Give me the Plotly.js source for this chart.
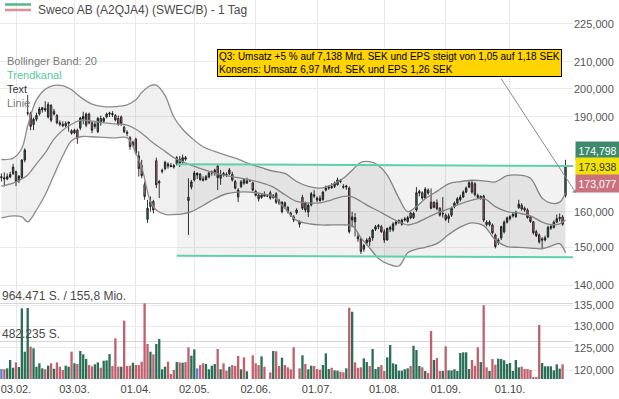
<!DOCTYPE html>
<html><head><meta charset="utf-8">
<script src="https://cdn.plot.ly/plotly-3.0.1.min.js"></script>
<style>html,body{margin:0;padding:0;background:#fff;}#chart{width:619px;height:399px;}</style>
</head><body><div id="chart"></div>
<script>
// ---- calendar (trading days) ----
const closedDays = ['2025-04-18','2025-04-21','2025-05-01'];
function buildCalendar(start, end, closed){
  const out=[]; const d=new Date(start+'T00:00:00Z'); const e=new Date(end+'T00:00:00Z');
  while(d<=e){const wd=d.getUTCDay(); const s=d.toISOString().slice(0,10);
    if(wd!==0&&wd!==6&&!closed.includes(s)) out.push(s); d.setUTCDate(d.getUTCDate()+1);}
  return out;
}
const axisDates = buildCalendar('2025-01-27','2025-11-28',closedDays);
const idx = s => axisDates.indexOf(s);

// ---- price data (SEK) ----
const open = [170.5,170.2,169.8,170.4,171.5,172.0,169.2,170.2,175.7,191.5,
191.2,187.4,189.2,191.0,192.5,193.0,190.0,194.0,192.0,190.5,
188.0,187.5,187.0,187.8,185.3,184.6,185.5,186.2,189.3,187.2,
191.0,188.0,186.8,185.0,189.5,188.5,190.0,191.0,191.2,190.5,
189.5,190.0,186.5,184.8,183.0,181.5,182.5,177.0,174.0,168.0,
157.8,161.5,163.0,175.5,169.0,172.5,173.0,174.5,174.0,174.0,
174.5,176.0,175.0,176.5,164.3,167.3,169.5,171.0,171.3,169.8,
169.6,170.4,171.6,171.9,173.8,170.0,171.5,171.2,171.4,171.2,
169.0,164.3,167.5,169.6,168.5,169.2,168.6,166.0,164.9,164.2,
165.0,164.6,165.6,164.2,165.3,163.2,160.0,162.6,161.3,159.6,
158.5,159.7,157.1,164.2,162.5,159.9,162.0,165.0,164.0,164.0,
163.6,166.4,167.0,167.5,167.5,168.0,169.3,167.5,167.3,167.0,
157.6,157.1,153.0,152.3,149.5,151.2,152.5,152.6,155.0,155.7,
155.7,154.3,152.0,155.0,154.8,156.5,157.0,156.4,157.6,157.2,
159.6,158.3,160.5,165.5,165.6,164.0,166.4,162.8,162.8,162.6,
161.0,159.5,159.0,158.8,159.0,161.5,162.5,163.5,164.3,165.8,
167.3,168.6,168.3,164.8,164.0,164.6,157.0,156.3,156.2,153.4,
151.3,152.6,154.3,157.0,158.0,158.8,158.6,161.2,161.9,161.0,
160.5,158.5,157.1,154.3,153.4,152.3,152.0,152.9,155.3,155.5,
157.0,158.0,158.5,164.8];
const high = [171.5,171.8,171.5,172.0,174.5,172.4,171.0,176.0,179.5,197.7,
191.8,189.8,191.5,193.5,193.5,195.5,195.2,194.5,192.8,191.0,
188.8,188.5,188.5,188.5,185.8,186.0,186.0,190.0,191.8,191.5,
191.5,188.5,188.3,190.0,190.5,190.0,191.5,191.8,192.0,191.0,
190.5,190.5,187.0,185.5,183.5,182.0,183.0,178.5,175.8,169.0,
163.5,164.5,163.5,176.5,169.5,173.0,175.5,175.0,174.8,174.5,
177.0,177.0,177.5,177.0,170.0,169.5,172.3,171.8,171.6,170.6,
171.0,172.0,172.4,173.0,174.5,172.6,172.0,171.8,173.2,172.0,
169.5,167.0,169.5,170.0,170.2,169.4,169.0,166.5,165.5,165.3,
166.0,164.8,166.2,165.2,165.8,163.8,163.0,163.0,161.6,160.0,
159.0,161.0,157.5,165.0,163.0,162.5,165.8,166.4,164.5,164.8,
166.2,167.8,167.8,168.5,169.0,170.2,169.8,168.2,168.0,167.5,
160.0,159.6,154.0,152.6,151.0,152.5,153.0,155.0,156.2,156.5,
156.2,155.0,155.5,156.0,157.0,157.5,157.8,158.0,158.5,158.8,
160.0,160.0,167.3,166.5,166.0,167.3,166.9,166.9,163.0,163.6,
161.3,164.3,159.5,159.5,161.5,163.0,164.3,165.0,166.3,167.5,
169.5,169.2,168.8,165.3,164.8,165.0,157.5,157.5,156.6,153.8,
152.5,156.0,157.5,158.6,159.0,159.8,160.3,163.5,162.5,161.5,
161.0,158.8,157.3,154.8,153.8,152.8,153.2,156.0,156.5,157.5,
159.2,159.5,159.0,175.8];
const low = [169.0,167.5,169.4,170.0,171.0,167.6,168.5,169.8,175.0,190.5,
185.5,185.5,188.5,190.5,191.5,191.8,189.5,188.2,190.5,187.5,
186.8,186.5,186.5,185.0,184.0,184.2,181.0,185.5,187.5,186.5,
187.5,184.5,186.0,184.5,187.0,188.0,189.5,190.0,190.0,188.5,
187.0,187.0,184.5,183.5,179.0,180.0,177.5,170.5,170.0,163.5,
156.8,160.0,159.5,167.0,164.0,171.5,172.5,173.0,173.5,173.0,
174.0,173.5,174.5,175.5,153.4,166.6,169.0,169.8,169.2,169.0,
169.3,170.0,170.8,170.8,166.4,168.0,170.5,170.4,171.0,169.0,
166.6,162.8,167.0,168.0,168.3,169.0,166.0,164.5,163.0,163.8,
164.5,164.4,163.5,163.8,162.3,162.0,159.5,161.0,159.5,158.5,
157.0,159.2,155.5,160.5,159.8,158.5,161.5,164.0,162.8,163.0,
163.2,166.0,166.5,166.8,167.0,167.8,168.5,166.8,166.5,153.8,
155.5,153.0,151.5,148.2,148.8,150.5,150.3,151.8,154.5,155.0,
154.0,151.2,151.8,154.2,154.3,156.0,156.5,156.0,157.2,156.8,
157.8,157.9,160.0,164.5,163.5,163.8,165.0,160.7,161.0,160.4,
158.6,158.3,157.3,156.8,158.5,161.0,162.0,163.0,164.0,165.5,
167.0,165.3,164.5,163.8,163.5,157.0,155.8,155.8,153.6,149.7,
150.6,152.0,153.8,156.6,157.5,158.3,158.2,160.8,160.3,160.0,
158.0,156.8,153.5,152.8,151.0,149.8,151.6,152.5,154.8,155.2,
156.8,157.2,156.0,164.2];
const close = [170.2,169.8,170.5,171.2,173.5,169.0,170.6,175.7,178.9,191.3,
186.8,189.2,190.5,192.8,193.2,192.4,194.3,188.9,191.0,188.0,
187.5,187.0,187.8,188.2,184.5,185.5,182.8,189.6,190.2,191.0,
188.0,185.5,187.5,189.5,188.0,189.5,191.0,191.3,190.8,189.0,
187.5,187.8,185.0,184.5,180.0,180.5,178.0,173.0,170.8,164.5,
161.0,163.0,160.5,168.0,168.6,172.2,175.0,173.8,173.6,173.5,
176.5,174.5,176.5,176.0,163.3,168.9,171.6,171.6,169.6,169.4,
170.5,171.6,171.9,172.5,170.2,171.2,171.0,170.8,172.6,169.5,
167.0,166.4,168.9,168.5,169.2,169.2,166.4,164.8,163.8,164.9,
164.6,164.6,164.0,164.7,162.8,162.6,162.8,161.6,160.0,159.0,
157.6,160.5,156.4,161.0,160.5,161.9,165.3,164.6,163.4,163.2,
165.8,167.0,167.3,167.1,168.5,169.5,169.0,167.3,167.6,154.3,
158.5,158.3,152.3,148.9,150.5,152.0,151.5,154.8,155.7,156.0,
154.3,152.0,155.2,155.5,156.5,157.0,157.4,157.6,157.9,158.3,
158.2,159.5,165.6,166.0,164.0,166.7,165.5,161.0,161.3,160.9,
159.0,159.4,157.8,158.0,161.0,162.5,163.8,164.3,165.8,167.0,
168.6,165.8,165.0,164.2,164.5,157.6,156.3,157.0,154.0,150.2,
152.0,155.7,157.0,158.2,158.6,159.2,159.8,162.2,160.8,160.5,
158.3,157.2,154.0,153.2,151.5,152.0,152.6,155.5,155.8,157.0,
158.0,158.3,156.4,173.938];
// ---- volume (shares) ----
const volume = [127000,124000,136000,242000,144000,212000,153000,900000,348000,905000,
412000,391000,157000,200000,136000,124000,170000,200000,131000,212000,
157000,115000,170000,157000,348000,200000,191000,357000,314000,255000,
178000,162000,187000,212000,144000,233000,237000,318000,166000,518000,
157000,157000,743000,166000,170000,208000,178000,178000,221000,964471,
446000,348000,314000,446000,510000,124000,157000,221000,64000,115000,
216000,212000,208000,216000,404000,297000,378000,136000,178000,200000,
191000,124000,170000,191000,382000,124000,200000,106000,157000,178000,
166000,293000,124000,276000,98000,null,302000,200000,178000,289000,
157000,null,85000,357000,353000,166000,272000,178000,149000,124000,
404000,null,136000,302000,191000,124000,170000,166000,127000,119000,
178000,327000,127000,144000,110000,106000,93000,85000,136000,908000,
857000,212000,144000,149000,263000,216000,166000,382000,127000,153000,
178000,102000,276000,433000,200000,187000,106000,106000,124000,136000,
166000,424000,369000,166000,149000,102000,76000,612000,242000,267000,
102000,102000,416000,110000,110000,124000,102000,331000,340000,340000,
127000,242000,170000,404000,216000,940000,149000,102000,255000,183000,
259000,255000,238000,191000,204000,102000,242000,149000,157000,127000,
127000,115000,25000,25000,688000,204000,162000,162000,162000,110000,
187000,132000,187000,null];

// ---- Bollinger band (20) ----
const bandDates = ['2025-01-27','2025-01-31','2025-02-05','2025-02-07','2025-02-12','2025-02-17','2025-02-20','2025-02-25','2025-02-28','2025-03-05',
'2025-03-11','2025-03-17','2025-03-21','2025-03-27','2025-04-01','2025-04-03','2025-04-08','2025-04-10','2025-04-15','2025-04-22',
'2025-04-25','2025-04-30','2025-05-07','2025-05-13','2025-05-19','2025-05-23','2025-05-29','2025-06-04','2025-06-10','2025-06-16',
'2025-06-20','2025-06-26','2025-07-02','2025-07-08','2025-07-14','2025-07-17','2025-07-22','2025-07-25','2025-07-30','2025-08-04',
'2025-08-08','2025-08-13','2025-08-18','2025-08-21','2025-08-27','2025-09-02','2025-09-08','2025-09-12','2025-09-18','2025-09-24',
'2025-09-30','2025-10-06','2025-10-10','2025-10-16','2025-10-21','2025-10-24','2025-10-28'];
const bandUpper = [175.9,176.3,179.5,187.0,196.0,199.8,201.2,201.1,199.6,197.0,194.5,193.6,193.6,194.2,196.0,198.6,201.1,201.3,197.5,190.0,
185.8,183.0,180.0,178.5,177.2,176.0,174.5,173.3,172.2,171.5,169.0,167.5,167.0,168.0,170.0,172.5,175.0,175.2,174.0,171.0,
164.0,160.0,161.5,163.8,166.0,168.3,169.0,169.4,169.2,168.9,170.8,171.0,170.0,164.0,162.5,162.8,165.5];
const bandMiddle = [167.6,168.5,169.8,171.0,174.5,178.0,182.5,185.5,187.5,188.8,188.6,188.0,187.6,187.2,185.8,184.5,182.0,180.5,178.5,176.5,
175.2,174.0,172.8,171.6,170.8,170.2,169.5,168.6,167.3,165.0,163.0,162.6,162.6,163.5,164.5,164.4,163.0,161.5,160.2,158.8,
157.1,156.2,156.8,158.0,159.6,160.8,162.3,163.4,163.9,161.5,160.0,159.6,158.8,157.0,156.3,156.5,157.6];
const bandLower = [158.2,158.8,158.5,157.1,160.5,165.0,171.0,177.0,182.0,183.3,183.3,183.1,182.9,183.0,178.0,173.5,163.0,160.5,159.2,159.2,
159.4,160.0,161.8,163.8,165.3,165.8,165.8,165.3,164.5,161.0,157.5,156.6,156.2,156.2,156.2,156.0,152.6,149.8,147.0,145.6,
145.0,148.5,149.5,150.0,151.0,153.5,155.6,156.8,156.0,152.0,150.2,150.0,149.8,149.6,150.3,151.0,148.5];

// ---- trend channel ----
const trendDates = ['2025-04-23','2025-11-21'];
const trendUpper = [174.4,173.8];
const trendLower = [147.7,147.3];
const trendFillDates = ['2025-04-23','2025-10-28'];
const trendFillUpper = [174.4,173.9];
const trendFillLower = [147.7,147.4];

// ---- labels ----
const tickDates = ['2025-02-03','2025-03-03','2025-04-01','2025-05-02','2025-06-02','2025-07-01','2025-08-01','2025-09-01','2025-10-01'];
const tickLabels = ['03.02.','03.03.','01.04.','02.05.','02.06.','01.07.','01.08.','01.09.','01.10.'];
const priceTicks = [120,125,130,135,140,150,160,190,200,210,225];
const volumeRefs = [482235,964471];
const quoteLabels = [{v:'174,798',bg:'#3f8a6c',fg:'#ffffff',y:150},{v:'173,938',bg:'#f2e205',fg:'#333333',y:166.5},{v:'173,077',bg:'#c9717e',fg:'#ffffff',y:183}];

// ---- derived ----
const x = close.map((_,k)=>k);
const volColors = close.map((c,k)=> (k===0||c===close[k-1]) ? '#5b7fd6' : (c>close[k-1] ? '#2c6f57' : '#c1616f'));
const bandX = bandDates.map(idx);
const trendX = trendDates.map(idx);
const trendFillX = trendFillDates.map(idx);

const W=619, H=399, ML=0, MR=46, MT=0, MB=18;
const PW=W-ML-MR, PH=H-MT-MB;
const px2x = p => p/PW, py2y = p => 1 - p/PH;
const FONT = 'Liberation Sans, Arial, sans-serif';

const traces = [
 {x:bandX, y:bandUpper, type:'scatter', mode:'lines', line:{color:'#8c8c8c', width:1.3, shape:'spline', smoothing:1}, hoverinfo:'skip'},
 {x:bandX, y:bandLower, type:'scatter', mode:'lines', fill:'tonexty', fillcolor:'rgba(0,0,0,0.06)', line:{color:'#8c8c8c', width:1.3, shape:'spline', smoothing:1}, hoverinfo:'skip'},
 {x:bandX, y:bandMiddle, type:'scatter', mode:'lines', line:{color:'#8c8c8c', width:1.3, shape:'spline', smoothing:1}, hoverinfo:'skip'},
 {x:trendFillX, y:trendFillLower, type:'scatter', mode:'lines', line:{width:0, color:'rgba(0,0,0,0)'}, hoverinfo:'skip'},
 {x:trendFillX, y:trendFillUpper, type:'scatter', mode:'lines', fill:'tonexty', fillcolor:'rgba(0,0,0,0.05)', line:{width:0, color:'rgba(0,0,0,0)'}, hoverinfo:'skip'},
 {x:trendX, y:trendLower, type:'scatter', mode:'lines', line:{color:'#5fd1a6', width:2}, hoverinfo:'skip'},
 {x:trendX, y:trendUpper, type:'scatter', mode:'lines', line:{color:'#5fd1a6', width:2}, hoverinfo:'skip'},
 {x:x, y:volume, type:'bar', yaxis:'y2', marker:{color:volColors, line:{width:0}}, hoverinfo:'skip'},
 {x:x, open:open, high:high, low:low, close:close, type:'candlestick',
  increasing:{line:{color:'#1e1e1e', width:0.9}, fillcolor:'#2f7c5e'},
  decreasing:{line:{color:'#1e1e1e', width:0.9}, fillcolor:'#cf7c88'},
  whiskerwidth:0, hoverinfo:'skip'}
];

const annotations = [
 {xref:'paper', yref:'paper', x:px2x(36), y:py2y(10), xanchor:'left', yanchor:'middle', showarrow:false, text:'Sweco AB (A2QJA4) (SWEC/B) - 1 Tag', font:{family:FONT, size:12, color:'#4a4a4a'}},
 {xref:'paper', yref:'paper', x:px2x(5), y:py2y(61), xanchor:'left', yanchor:'middle', showarrow:false, text:'Bollinger Band: 20', font:{family:FONT, size:11, color:'#7a7a7a'}},
 {xref:'paper', yref:'paper', x:px2x(5), y:py2y(75), xanchor:'left', yanchor:'middle', showarrow:false, text:'Trendkanal', font:{family:FONT, size:11, color:'#56c99a'}},
 {xref:'paper', yref:'paper', x:px2x(5), y:py2y(89), xanchor:'left', yanchor:'middle', showarrow:false, text:'Text', font:{family:FONT, size:11, color:'#3a3a3a'}},
 {xref:'paper', yref:'paper', x:px2x(5), y:py2y(103), xanchor:'left', yanchor:'middle', showarrow:false, text:'Linie', font:{family:FONT, size:11, color:'#7a7a7a'}},
 {xref:'paper', yref:'paper', x:px2x(0), y:py2y(296), xanchor:'left', yanchor:'middle', showarrow:false, text:'964.471 S. / 155,8 Mio.', font:{family:FONT, size:12, color:'#4a4a4a'}},
 {xref:'paper', yref:'paper', x:px2x(0), y:py2y(334), xanchor:'left', yanchor:'middle', showarrow:false, text:'482.235 S.', font:{family:FONT, size:12, color:'#4a4a4a'}},
 {xref:'paper', yref:'paper', x:px2x(576), y:py2y(193), ax:-76, ay:-116, axref:'pixel', ayref:'pixel', showarrow:true, text:'', arrowhead:1, arrowsize:1, arrowwidth:1, arrowcolor:'#8a8a8a'},
 {xref:'paper', yref:'paper', x:px2x(217), y:py2y(63.5), xanchor:'left', yanchor:'middle', showarrow:false, align:'left',
  text:'Q3: Umsatz +5 % auf 7,138 Mrd. SEK und EPS steigt von 1,05 auf 1,18 SEK<br>Konsens: Umsatz 6,97 Mrd. SEK und EPS 1,26 SEK',
  font:{family:FONT, size:10, color:'#000'}, bgcolor:'#ffd400', bordercolor:'#000', borderwidth:1, borderpad:1}
];
quoteLabels.forEach(q=>annotations.push({xref:'paper', yref:'paper', x:px2x(575), y:py2y(q.y), xanchor:'left', yanchor:'middle', showarrow:false,
  text:q.v, font:{family:FONT, size:10.5, color:q.fg}, bgcolor:q.bg, borderpad:2.5}));

const shapes = [
 {type:'line', xref:'paper', yref:'paper', x0:px2x(5), x1:px2x(31), y0:py2y(4.5), y1:py2y(4.5), line:{color:'#52b88b', width:2.5}},
 {type:'line', xref:'paper', yref:'paper', x0:px2x(5), x1:px2x(31), y0:py2y(10), y1:py2y(10), line:{color:'#e08f90', width:2.5}},
 {type:'line', xref:'paper', yref:'y', x0:1, x1:1.1, y0:Math.log10(trendUpper[1]), y1:Math.log10(trendUpper[1]), line:{color:'#5fd1a6', width:2}},
 {type:'line', xref:'paper', yref:'y', x0:1, x1:1.1, y0:Math.log10(trendLower[1]), y1:Math.log10(trendLower[1]), line:{color:'#5fd1a6', width:2}}
];

const pTop = 234.9, pBot = 117.7;
const layout = {
 width:W, height:H, margin:{l:ML, r:MR, t:MT, b:MB, pad:0},
 paper_bgcolor:'#fff', plot_bgcolor:'#fff', showlegend:false, hovermode:false, dragmode:false,
 font:{family:FONT, size:11, color:'#444'},
 bargap:0.2,
 xaxis:{type:'linear', range:[-0.474,195.56], tickvals:tickDates.map(idx), ticktext:tickLabels,
   showgrid:true, gridcolor:'#e8e8e8', gridwidth:1, zeroline:false, showline:false, ticks:'',
   tickfont:{family:FONT, size:11, color:'#444'}, rangeslider:{visible:false}, fixedrange:true},
 yaxis:{type:'log', range:[Math.log10(pBot), Math.log10(pTop)], side:'right', tickvals:priceTicks,
   ticktext:priceTicks.map(v=>v.toFixed(3).replace('.',',')), showgrid:true, gridcolor:'#ebebeb',
   zeroline:false, showline:false, ticks:'', tickfont:{family:FONT, size:11, color:'#555'}, fixedrange:true},
 yaxis2:{overlaying:'y', side:'left', range:[-25482,4828839], tickvals:volumeRefs, showticklabels:false,
   showgrid:true, gridcolor:'#d6d6d6', gridwidth:1, zeroline:false, showline:false, ticks:'', fixedrange:true},
 annotations:annotations, shapes:shapes
};
Plotly.newPlot('chart', traces, layout, {staticPlot:true, displayModeBar:false});
</script></body></html>
